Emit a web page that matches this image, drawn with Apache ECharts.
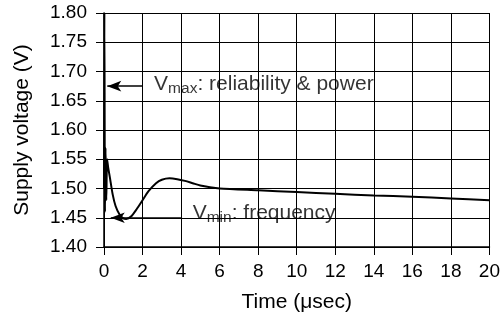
<!DOCTYPE html>
<html>
<head>
<meta charset="utf-8">
<script src="https://cdn.jsdelivr.net/npm/echarts@6/dist/echarts.min.js"></script>
<style>
  html, body { margin: 0; padding: 0; background: #fff; }
  #chart { width: 503px; height: 321px; }
</style>
</head>
<body>
<div id="chart"></div>
<script>
// Supply voltage transient after a load step (time in microseconds)
const timeUs = [0, 0.02, 0.05, 0.08, 0.12, 0.16, 0.22, 0.3, 0.45, 0.6, 0.8, 1.0, 1.15, 1.4, 1.7, 2.0, 2.3, 2.7, 3.0, 3.4, 3.8, 4.2, 4.6, 5.0, 5.5, 6.0, 8, 10, 12, 14, 16, 18, 20];
const voltage = [1.50, 1.80, 1.46, 1.57, 1.48, 1.55, 1.535, 1.52, 1.49, 1.47, 1.456, 1.449, 1.448, 1.452, 1.465, 1.48, 1.495, 1.509, 1.515, 1.5175, 1.516, 1.513, 1.509, 1.505, 1.502, 1.500, 1.497, 1.494, 1.491, 1.488, 1.486, 1.483, 1.480];

const xTicks = { min: 0, max: 20, step: 2 };
const yTicks = { min: 1.40, max: 1.80, step: 0.05 };

// Annotation arrows: [tail time, head time, voltage level]
const vmaxArrow = [2.0, 0.17, 1.675];
const vminArrow = [4.05, 0.35, 1.45];
// Annotation text anchors: [time, voltage]
const vmaxText = [2.6, 1.679];
const vminText = [4.6, 1.457];

const FONT = '"Liberation Sans", Arial, Helvetica, sans-serif';
const INK = '#000';

const chart = echarts.init(document.getElementById('chart'), null, { renderer: 'canvas' });

const labelRich = {
  n: { fontFamily: FONT, fontSize: 21, color: INK, lineHeight: 23 },
  s: { fontFamily: FONT, fontSize: 15.5, color: INK, lineHeight: 23, padding: [9, 0, 0, 0] }
};

chart.setOption({
  animation: false,
  grid: { left: 104, right: 11, top: 13, bottom: 74 },
  xAxis: {
    type: 'value',
    min: xTicks.min, max: xTicks.max, interval: xTicks.step,
    name: 'Time (\u03bcsec)',
    nameLocation: 'middle',
    nameGap: 45,
    nameTextStyle: { fontFamily: FONT, fontSize: 21, color: INK },
    axisLine: { onZero: false, lineStyle: { color: '#000', width: 1.5 } },
    axisTick: { show: true, inside: false, length: 8, lineStyle: { color: '#000', width: 1 } },
    axisLabel: { fontFamily: FONT, fontSize: 19, color: INK, margin: 15 },
    splitLine: { show: true, lineStyle: { color: '#000', width: 1 } }
  },
  yAxis: {
    type: 'value',
    min: yTicks.min, max: yTicks.max, interval: yTicks.step,
    name: 'Supply voltage (V)',
    nameLocation: 'middle',
    nameGap: 71,
    nameTextStyle: { fontFamily: FONT, fontSize: 21, color: INK },
    axisLine: { show: true, lineStyle: { color: '#000', width: 1.5 } },
    axisTick: { show: true, inside: false, length: 8, lineStyle: { color: '#000', width: 1 } },
    axisLabel: {
      fontFamily: FONT, fontSize: 19, color: INK, margin: 17,
      formatter: v => v.toFixed(2)
    },
    splitLine: { show: true, lineStyle: { color: '#000', width: 1 } }
  },
  series: [
    {
      type: 'line',
      data: timeUs.map((t, i) => [t, voltage[i]]),
      showSymbol: false,
      smooth: 0.25,
      lineStyle: { color: '#000', width: 2 },
      z: 5,
      markLine: {
        silent: true,
        symbol: ['none', 'arrow'],
        symbolSize: [8, 14],
        label: { show: false },
        lineStyle: { color: '#000', width: 1.5, type: 'solid' },
        data: [
          [{ coord: [vmaxArrow[0], vmaxArrow[2]] }, { coord: [vmaxArrow[1], vmaxArrow[2]] }],
          [{ coord: [vminArrow[0], vminArrow[2]] }, { coord: [vminArrow[1], vminArrow[2]] }]
        ]
      }
    },
    {
      type: 'scatter',
      symbolSize: 0,
      silent: true,
      z: 6,
      data: [
        { value: vmaxText, label: { formatter: '{n|V}{s|max}{n|: reliability & power}' } },
        { value: vminText, label: { formatter: '{n|V}{s|min}{n|: frequency}' } }
      ],
      label: {
        show: true,
        position: 'right',
        distance: 0,
        rich: labelRich
      }
    }
  ]
});
</script>
</body>
</html>
